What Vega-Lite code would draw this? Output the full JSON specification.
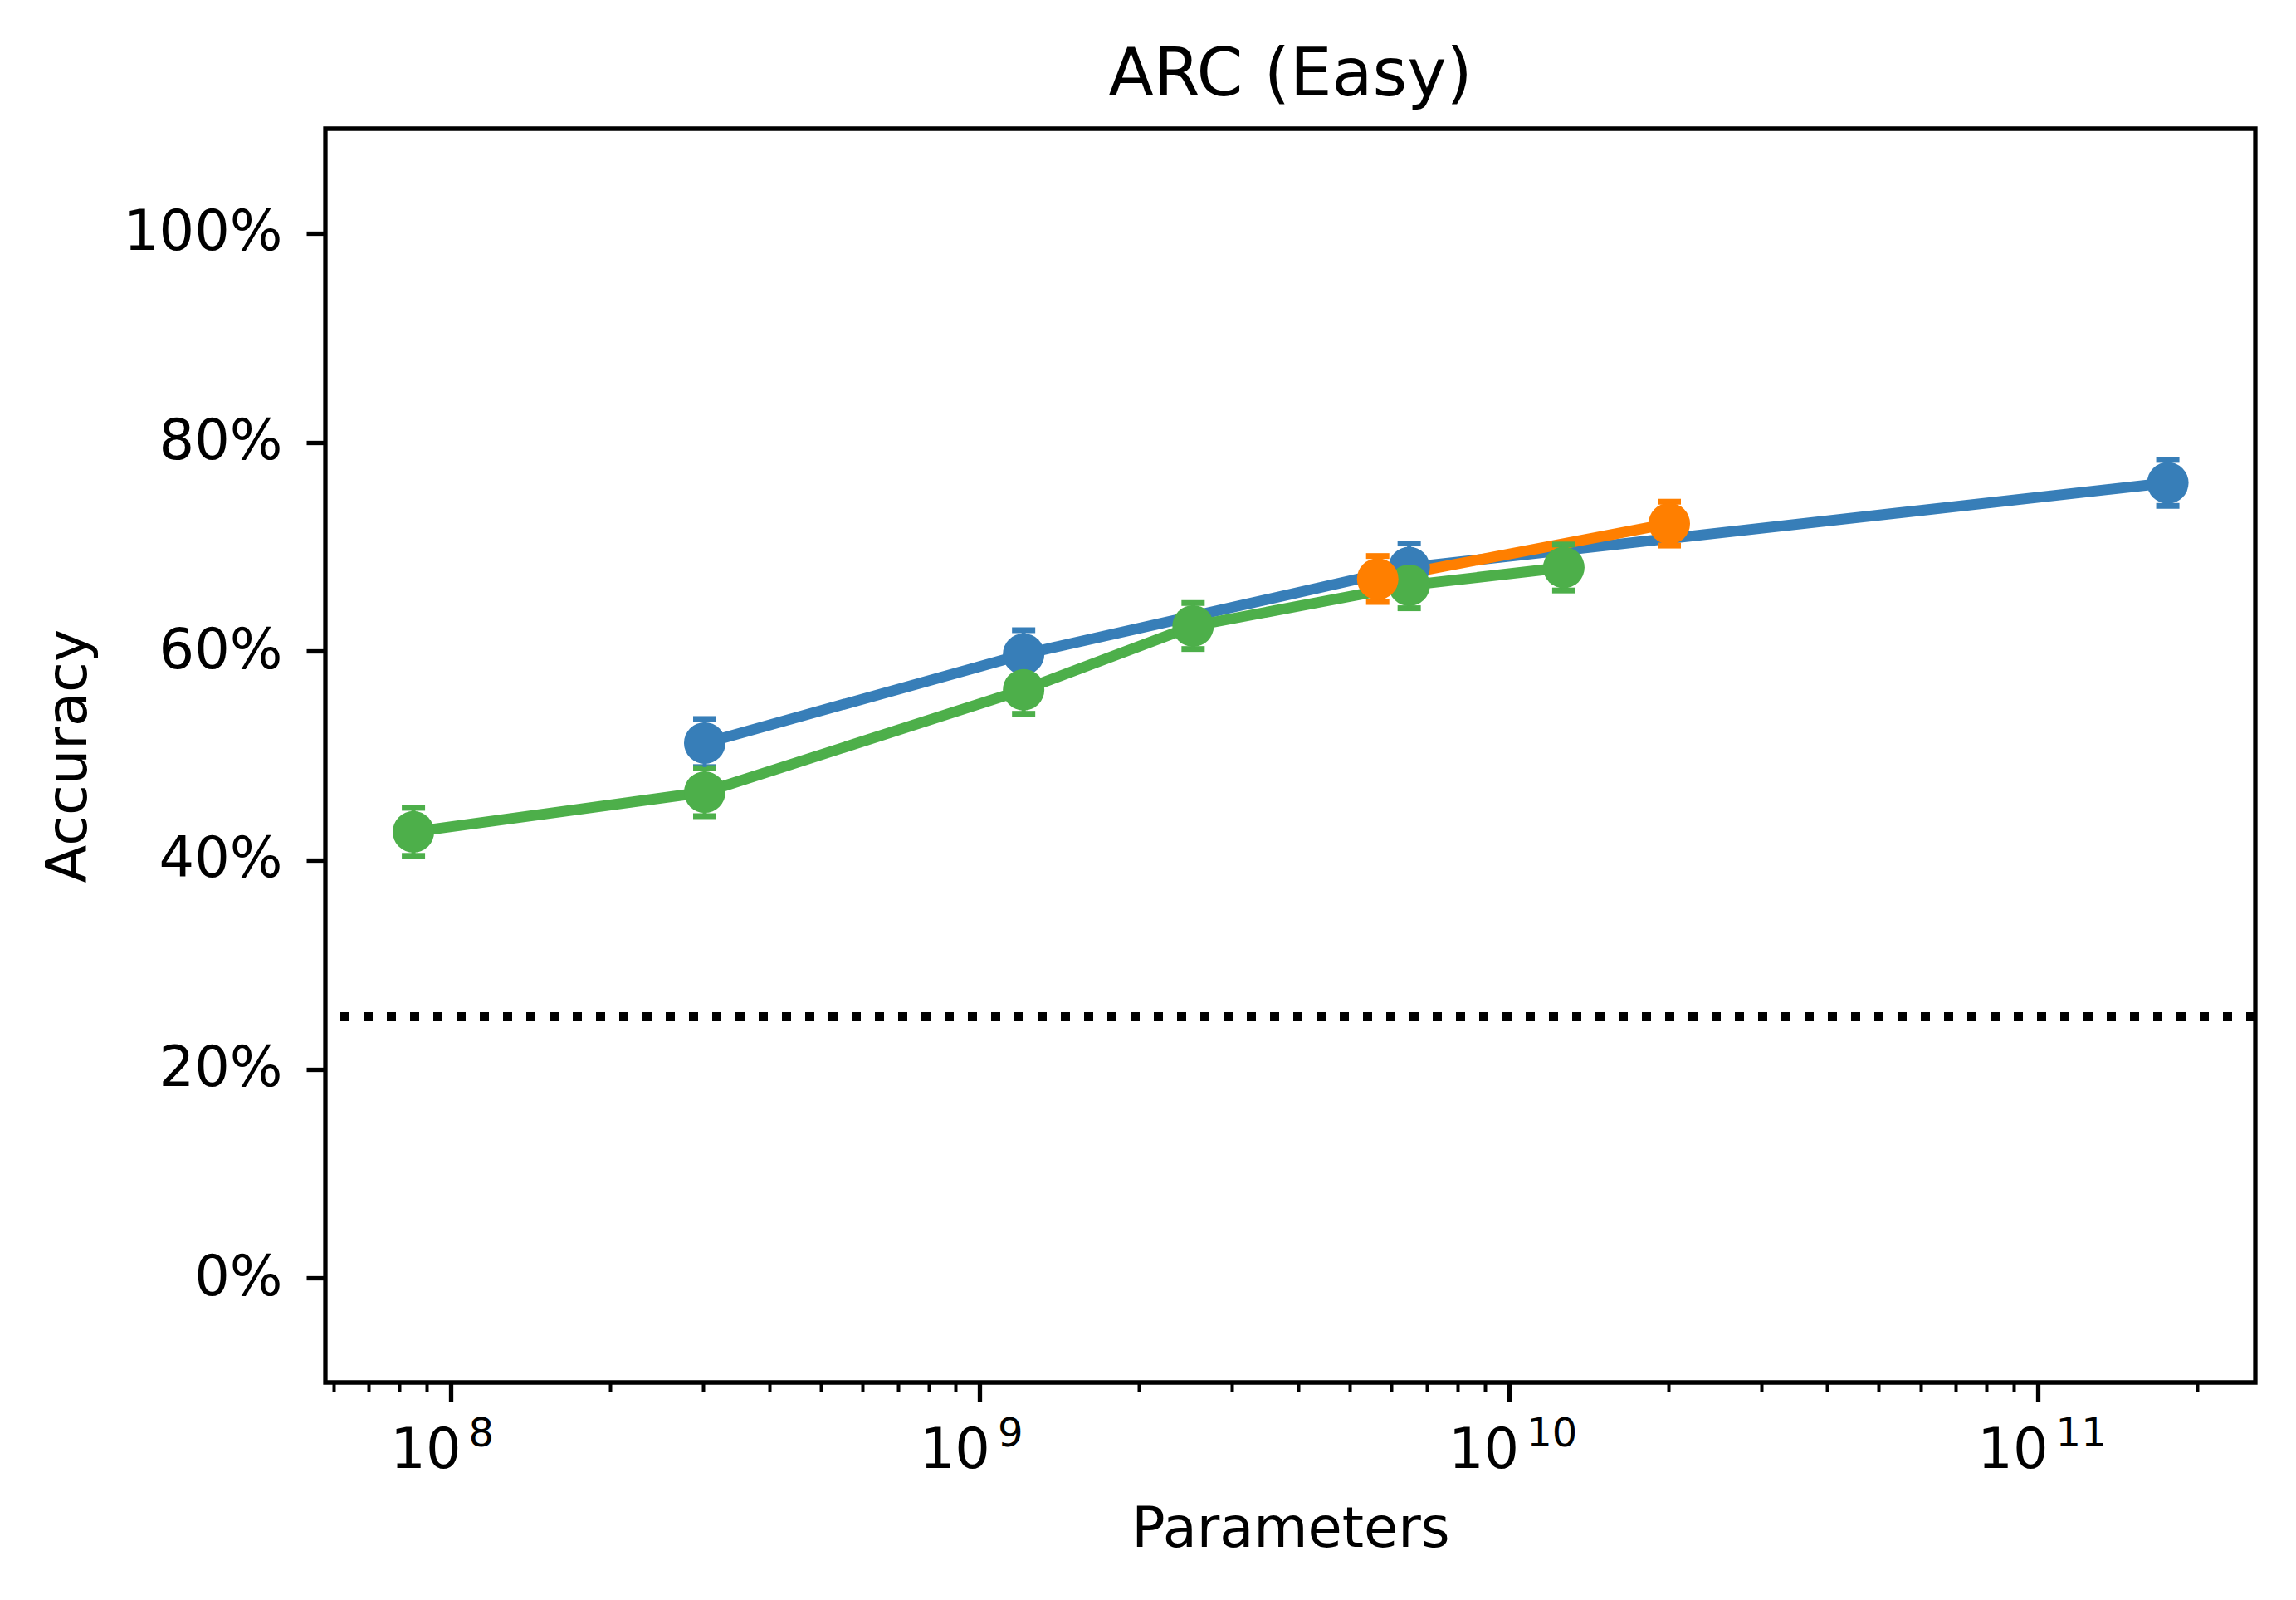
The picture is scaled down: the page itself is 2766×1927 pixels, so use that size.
{
  "$schema": "https://vega.github.io/schema/vega-lite/v6.json",
  "autosize": {"type": "none"},
  "width": 2325,
  "height": 1510,
  "padding": {"left": 392, "top": 155, "right": 49, "bottom": 262},
  "background": "white",
  "title": {
    "text": "ARC (Easy)",
    "font": "DejaVu Sans",
    "fontSize": 80,
    "fontWeight": "normal",
    "color": "black",
    "offset": 23,
    "frame": "group"
  },
  "data": {
    "values": [
      {"series": "S1", "params": 3.02e8, "acc": 0.512, "err": 0.023},
      {"series": "S1", "params": 1.21e9, "acc": 0.597, "err": 0.023},
      {"series": "S1", "params": 6.48e9, "acc": 0.680, "err": 0.023},
      {"series": "S1", "params": 1.76e11, "acc": 0.761, "err": 0.022},
      {"series": "S2", "params": 8.5e7, "acc": 0.427, "err": 0.023},
      {"series": "S2", "params": 3.02e8, "acc": 0.465, "err": 0.023},
      {"series": "S2", "params": 1.21e9, "acc": 0.563, "err": 0.023},
      {"series": "S2", "params": 2.53e9, "acc": 0.624, "err": 0.022},
      {"series": "S2", "params": 6.48e9, "acc": 0.663, "err": 0.022},
      {"series": "S2", "params": 1.27e10, "acc": 0.680, "err": 0.022},
      {"series": "S3", "params": 5.65e9, "acc": 0.669, "err": 0.022},
      {"series": "S3", "params": 2.01e10, "acc": 0.722, "err": 0.021}
    ]
  },
  "resolve": {"axis": {"x": "independent"}},
  "layer": [
    {
      "data": {"values": [{"chance": 0.25}]},
      "mark": {"type": "rule", "color": "black", "strokeWidth": 11, "strokeDash": [11, 17], "strokeCap": "butt"},
      "encoding": {
        "y": {
          "field": "chance",
          "type": "quantitative",
          "title": "Accuracy",
          "scale": {"domain": [-0.1, 1.1], "nice": false, "zero": false},
          "axis": {
            "values": [0, 0.2, 0.4, 0.6, 0.8, 1.0],
            "format": ".0%",
            "tickSize": 23,
            "tickWidth": 5.3,
            "labelPadding": 29,
            "labelLimit": 0,
            "titleBaseline": "alphabetic",
            "titleX": -289
          }
        }
      }
    },
    {
      "mark": {"type": "line", "strokeWidth": 13},
      "encoding": {
        "x": {
          "field": "params",
          "type": "quantitative",
          "title": "Parameters",
          "scale": {"type": "log", "domain": [5.794e7, 2.576e11], "nice": false},
          "axis": {
            "orient": "bottom",
            "values": [1e8, 1e9, 1e10, 1e11],
            "labelExpr": "'10'",
            "tickSize": 23,
            "tickWidth": 5.3,
            "labelAlign": "right",
            "labelOffset": 12,
            "labelBaseline": "alphabetic",
            "labelPadding": 79,
            "labelOverlap": false,
            "labelFlush": false,
            "labelLimit": 0,
            "titleBaseline": "alphabetic",
            "titleY": 197
          }
        },
        "y": {"field": "acc", "type": "quantitative", "title": "Accuracy"},
        "color": {
          "field": "series",
          "type": "nominal",
          "scale": {"domain": ["S1", "S2", "S3"], "range": ["#377eb8", "#4daf4a", "#ff7f00"]},
          "legend": null
        }
      }
    },
    {
      "mark": {"type": "errorbar", "thickness": 5, "opacity": 1, "ticks": {"size": 28, "thickness": 7, "opacity": 1}},
      "encoding": {
        "x": {
          "field": "params",
          "type": "quantitative",
          "axis": {
            "orient": "bottom",
            "title": null,
            "ticks": false,
            "tickSize": 0,
            "values": [1e8, 1e9, 1e10, 1e11],
            "labelExpr": "datum.value == 1e8 ? '8' : datum.value == 1e9 ? '9' : datum.value == 1e10 ? '10' : '11'",
            "labelFontSize": 48,
            "labelAlign": "left",
            "labelOffset": 21,
            "labelBaseline": "alphabetic",
            "labelPadding": 76,
            "labelOverlap": false,
            "labelFlush": false,
            "labelLimit": 0
          }
        },
        "y": {"field": "acc", "type": "quantitative", "title": "Accuracy"},
        "yError": {"field": "err"},
        "color": {"field": "series", "type": "nominal", "legend": null}
      }
    },
    {
      "mark": {"type": "point", "shape": "circle", "filled": true, "opacity": 1, "size": 2500},
      "encoding": {
        "x": {
          "field": "params",
          "type": "quantitative",
          "axis": {
            "orient": "bottom",
            "title": null,
            "labels": false,
            "values": [6e7, 7e7, 8e7, 9e7, 2e8, 3e8, 4e8, 5e8, 6e8, 7e8, 8e8, 9e8, 2e9, 3e9, 4e9, 5e9, 6e9, 7e9, 8e9, 9e9, 2e10, 3e10, 4e10, 5e10, 6e10, 7e10, 8e10, 9e10, 2e11],
            "tickSize": 11,
            "tickWidth": 4
          }
        },
        "y": {"field": "acc", "type": "quantitative", "title": "Accuracy"},
        "color": {"field": "series", "type": "nominal", "legend": null}
      }
    }
  ],
  "config": {
    "view": {"stroke": "black", "strokeWidth": 5.3},
    "axis": {
      "domain": false,
      "grid": false,
      "labelFont": "DejaVu Sans",
      "labelFontSize": 67,
      "labelColor": "black",
      "titleFont": "DejaVu Sans",
      "titleFontSize": 67,
      "titleFontWeight": "normal",
      "titleColor": "black",
      "tickColor": "black"
    }
  }
}
